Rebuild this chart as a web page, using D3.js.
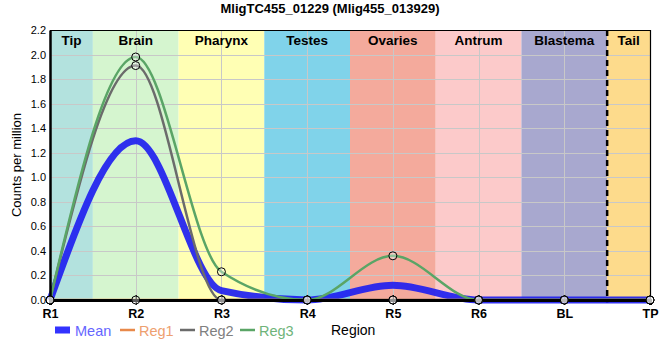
<!DOCTYPE html>
<html>
<head>
<meta charset="utf-8">
<script src="https://cdn.jsdelivr.net/npm/d3@7"></script>
<style>
  body { margin: 0; background: #fff; }
  text { font-family: "Liberation Sans", Arial, sans-serif; }
</style>
</head>
<body>
<svg id="chart"></svg>
<script>
// regions along the body
const regions = ["R1", "R2", "R3", "R4", "R5", "R6", "BL", "TP"];

// series values per region
const reg1 = [0, 0, 0, 0, 0, 0, 0, 0];
const reg2 = [0, 1.91, 0, 0, 0, 0, 0, 0];
const reg3 = [0, 1.98, 0.23, 0, 0.36, 0, 0, 0];
const meanVals = regions.map((r, i) => (reg1[i] + reg2[i] + reg3[i]) / 3);

// tissue bands (start/end in region index units)
const bandNames = ["Tip", "Brain", "Pharynx", "Testes", "Ovaries", "Antrum", "Blastema", "Tail"];
const bandStart = [0, 0.5, 1.5, 2.5, 3.5, 4.5, 5.5, 6.5];
const bandEnd = [0.5, 1.5, 2.5, 3.5, 4.5, 5.5, 6.5, 7];
const bandColors = ["#b3e2de", "#d5f5cf", "#ffffb4", "#80d3ea", "#f4aa9c", "#fccaca", "#a8a8cf", "#fddb8c"];

const yTicks = d3.range(0, 2.21, 0.2);

const config = {
    width: 660, height: 360,
    left: 50, right: 650, top: 30, bottom: 300
};

const svg = d3.select("#chart")
    .attr("width", config.width)
    .attr("height", config.height);

const x = d3.scaleLinear().domain([0, regions.length - 1]).range([config.left, config.right]);
const y = d3.scaleLinear().domain([0, 2.2]).range([config.bottom, config.top]);

// bands
svg.append("g").selectAll("rect")
    .data(bandNames)
    .enter().append("rect")
    .attr("x", (d, i) => x(bandStart[i]))
    .attr("width", (d, i) => x(bandEnd[i]) - x(bandStart[i]))
    .attr("y", config.top)
    .attr("height", config.bottom - config.top)
    .attr("fill", (d, i) => bandColors[i]);

// grid
const grid = svg.append("g").attr("stroke", "#c8c8c8").attr("stroke-width", 1);
grid.selectAll("line.h").data(yTicks).enter().append("line")
    .attr("x1", config.left).attr("x2", config.right)
    .attr("y1", d => Math.round(y(d)) + 0.5).attr("y2", d => Math.round(y(d)) + 0.5);
grid.selectAll("line.v").data(regions).enter().append("line")
    .attr("x1", (d, i) => Math.round(x(i)) + 0.5).attr("x2", (d, i) => Math.round(x(i)) + 0.5)
    .attr("y1", config.top).attr("y2", config.bottom);

// band labels
svg.append("g").selectAll("text")
    .data(bandNames)
    .enter().append("text")
    .attr("x", (d, i) => x((bandStart[i] + bandEnd[i]) / 2))
    .attr("y", 45)
    .attr("text-anchor", "middle")
    .attr("font-size", "13.5px")
    .attr("font-weight", "bold")
    .text(d => d);

// dashed separator before tail
svg.append("line")
    .attr("x1", x(6.5)).attr("x2", x(6.5))
    .attr("y1", config.top).attr("y2", config.bottom + 3)
    .attr("stroke", "#000").attr("stroke-width", 2.5)
    .attr("stroke-dasharray", "6,4");

// frame top/right
svg.append("path")
    .attr("d", `M${config.left},${config.top + 0.5}H${config.right + 0.5}V${config.bottom}`)
    .attr("fill", "none").attr("stroke", "#000").attr("stroke-width", 1.2);

const line = d3.line()
    .x((d, i) => x(i))
    .y(d => y(d))
    .curve(d3.curveMonotoneX);

const series = [
    { name: "Reg1", values: reg1, color: "#e8894a", text: "#eea070", width: 2.5 },
    { name: "Reg2", values: reg2, color: "#6b6b6b", text: "#808080", width: 2.5 },
    { name: "Reg3", values: reg3, color: "#5aa566", text: "#6fb47a", width: 2.5 }
];

// mean line
svg.append("path")
    .attr("d", line(meanVals))
    .attr("fill", "none")
    .attr("stroke", "#2020f0")
    .attr("stroke-opacity", 0.92)
    .attr("stroke-width", 7);

series.forEach(s => {
    svg.append("path")
        .attr("d", line(s.values))
        .attr("fill", "none")
        .attr("stroke", s.color)
        .attr("stroke-width", s.width);
});

// axes
const yAxis = svg.append("g")
    .attr("transform", `translate(${config.left},0)`)
    .call(d3.axisLeft(y).tickValues(yTicks).tickFormat(d3.format(".1f")).tickSize(0).tickPadding(4));
yAxis.select(".domain").attr("stroke-width", 2.5);
yAxis.selectAll("text").attr("font-size", "11px").attr("font-family", "Liberation Sans, Arial, sans-serif");

const xAxis = svg.append("g")
    .attr("transform", `translate(0,${config.bottom})`)
    .call(d3.axisBottom(x).tickValues(d3.range(regions.length)).tickFormat(i => regions[i]).tickSize(5).tickPadding(4));
xAxis.select(".domain").attr("stroke-width", 3);
xAxis.selectAll(".tick line").attr("y1", -5).attr("stroke-width", 1.2);
xAxis.selectAll("text")
    .attr("font-size", "12.5px")
    .attr("font-weight", "bold")
    .attr("font-family", "Liberation Sans, Arial, sans-serif");

// markers
series.forEach(s => {
    svg.append("g").selectAll("circle")
        .data(s.values)
        .enter().append("circle")
        .attr("cx", (d, i) => x(i))
        .attr("cy", d => y(d))
        .attr("r", 4)
        .attr("fill", "#fff")
        .attr("fill-opacity", 0.35)
        .attr("stroke", "#000")
        .attr("stroke-width", 1);
});

// title
svg.append("text")
    .attr("x", 330).attr("y", 13)
    .attr("text-anchor", "middle")
    .attr("font-size", "13px")
    .attr("font-weight", "bold")
    .text("MligTC455_01229 (Mlig455_013929)");

// y label
svg.append("text")
    .attr("transform", `translate(21,${(config.top + config.bottom) / 2}) rotate(-90)`)
    .attr("text-anchor", "middle")
    .attr("font-size", "13px")
    .text("Counts per million");

// legend
const legend = svg.append("g").attr("transform", "translate(55,330)");
legend.append("rect")
    .attr("x", 0).attr("y", -3.5).attr("width", 15).attr("height", 7)
    .attr("fill", "#3333ff");
legend.append("text")
    .attr("x", 20).attr("y", 5.5)
    .attr("font-family", "Roboto, sans-serif").attr("font-size", "14.5px").attr("font-weight", 500)
    .attr("fill", "#6565ff").text("Mean");
series.forEach((s, i) => {
    const g = legend.append("g").attr("transform", `translate(${65 + i * 60},0)`);
    g.append("line").attr("x1", 0).attr("x2", 15).attr("y1", 0).attr("y2", 0)
        .attr("stroke", s.color).attr("stroke-width", 2.5);
    g.append("text")
        .attr("x", 19).attr("y", 5.5)
        .attr("font-family", "Roboto, sans-serif").attr("font-size", "14.5px").attr("font-weight", 500)
        .attr("fill", s.text).text(s.name);
});
svg.append("text")
    .attr("x", 331).attr("y", 335)
    .attr("font-family", "Roboto, sans-serif").attr("font-size", "14px")
    .text("Region");
</script>
</body>
</html>
